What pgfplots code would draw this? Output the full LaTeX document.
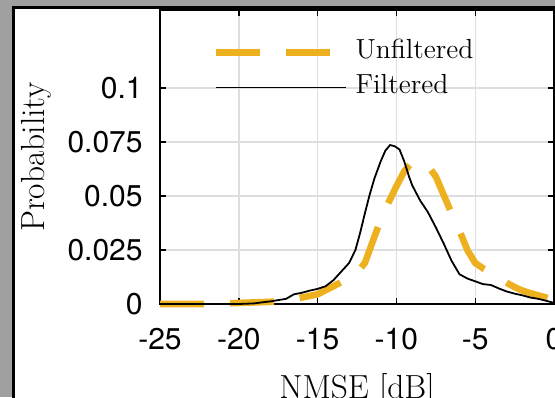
\documentclass[border=0pt]{standalone}
\usepackage{fontspec}
\usepackage{pgfplots}
\pgfplotsset{compat=1.18}
\newfontfamily\tickfont{TeX Gyre Heros}
\definecolor{myyellow}{RGB}{237,177,32}
\definecolor{bggray}{RGB}{160,160,160}
\definecolor{gridgray}{RGB}{222,222,222}
\begin{document}
\begin{tikzpicture}
\useasboundingbox (0,0) rectangle (277.5pt,-198.5pt);
\clip (0,0) rectangle (277.5pt,-198.5pt);
\fill[bggray] (0,0) rectangle (277.5pt,-198.5pt);
\filldraw[fill=white, draw=black, line width=1.5pt] (6.75pt,-3.75pt) rectangle (330pt,-240pt);
\begin{axis}[
  at={(80pt,-152pt)}, anchor=south west,
  scale only axis, width=197pt, height=147pt,
  xmin=-25, xmax=0, ymin=0, ymax=0.1361,
  clip=false,
  scaled ticks=false,
  xtick={-25,-20,-15,-10,-5,0},
  xticklabels={-25,-20,-15,-10,-5,0},
  ytick={0,0.025,0.05,0.075,0.1},
  yticklabels={0,0.025,0.05,0.075,0.1},
  tick align=inside,
  major tick length=3pt,
  tick style={black, line width=0.7pt},
  axis line style={black, line width=0.9pt},
  grid=major,
  major grid style={gridgray, line width=0.7pt},
  xticklabel style={font=\tickfont\fontsize{15}{15}\selectfont, inner sep=0pt, anchor=north, yshift=-12pt},
  yticklabel style={font=\tickfont\fontsize{15}{15}\selectfont, inner sep=0pt, anchor=east, xshift=-8.5pt},
  xlabel={NMSE [dB]},
  ylabel={Probability},
  every axis x label/.style={at={(axis description cs:0.5,0)}, anchor=base, yshift=-47pt, font=\fontsize{16.7}{18}\selectfont},
  every axis y label/.style={at={(axis description cs:-0.292,0.5)}, rotate=90, anchor=base, font=\fontsize{16.7}{18}\selectfont},
  legend style={at={(axis description cs:0.1345,0.902)}, anchor=north west, draw=none, fill=none, inner sep=0pt, outer sep=0pt, font=\fontsize{13.8}{14}\selectfont, row sep=7.5pt, column sep=3pt, nodes={inner sep=0pt, text height=10pt, text depth=0pt}},
  legend cell align=left,
  legend image code/.code={\draw[#1] (0pt,-1.8pt) -- (65pt,-1.8pt);},
]
\addplot[myyellow, line width=3.3pt, line cap=butt, dash pattern=on 22pt off 13pt] coordinates {
(-25,0) (-22,0) (-20,0.0005) (-18,0.001) (-17,0.0015) (-16,0.003) (-15,0.0045)
(-14,0.0082) (-13,0.012) (-12.5,0.0145) (-12,0.019) (-11.5,0.029) (-11,0.039)
(-10.5,0.047) (-10,0.0545) (-9.5,0.0615) (-9,0.0655) (-8.5,0.066) (-8,0.064)
(-7.5,0.059) (-7,0.0505) (-6.5,0.042) (-6,0.034) (-5.5,0.025) (-5,0.019)
(-4.5,0.0165) (-4,0.0145) (-3.5,0.012) (-3,0.0098) (-2.5,0.0078) (-2,0.0062)
(-1.5,0.005) (-1,0.004) (-0.5,0.003) (0,0.002)
};
\addlegendentry{Unfiltered}
\addplot[black, line width=0.9pt] coordinates {
(-25,0) (-20,0) (-19,0.0003) (-18.5,0.0008) (-18,0.0012) (-17,0.0024) (-16.5,0.0045)
(-16,0.0052) (-15.5,0.0062) (-15,0.007) (-14.5,0.0082) (-14,0.011) (-13.5,0.015)
(-13,0.019) (-12.6,0.025) (-12.3,0.033) (-12,0.042) (-11.7,0.0505) (-11.4,0.058)
(-11,0.066) (-10.7,0.071) (-10.4,0.0736) (-10.1,0.073) (-9.8,0.0715) (-9.5,0.066)
(-9.2,0.059) (-9,0.055) (-8.5,0.048) (-8,0.0425) (-7.5,0.0355) (-7,0.028)
(-6.5,0.02) (-6,0.0138) (-5.5,0.0118) (-5,0.0105) (-4.5,0.0092) (-4,0.0088)
(-3.5,0.0072) (-3,0.0058) (-2.5,0.0048) (-2,0.004) (-1.5,0.003) (-1,0.0024)
(-0.5,0.0015) (0,0.0005)
};
\addlegendentry{Filtered}
\end{axis}
\end{tikzpicture}
\end{document}
